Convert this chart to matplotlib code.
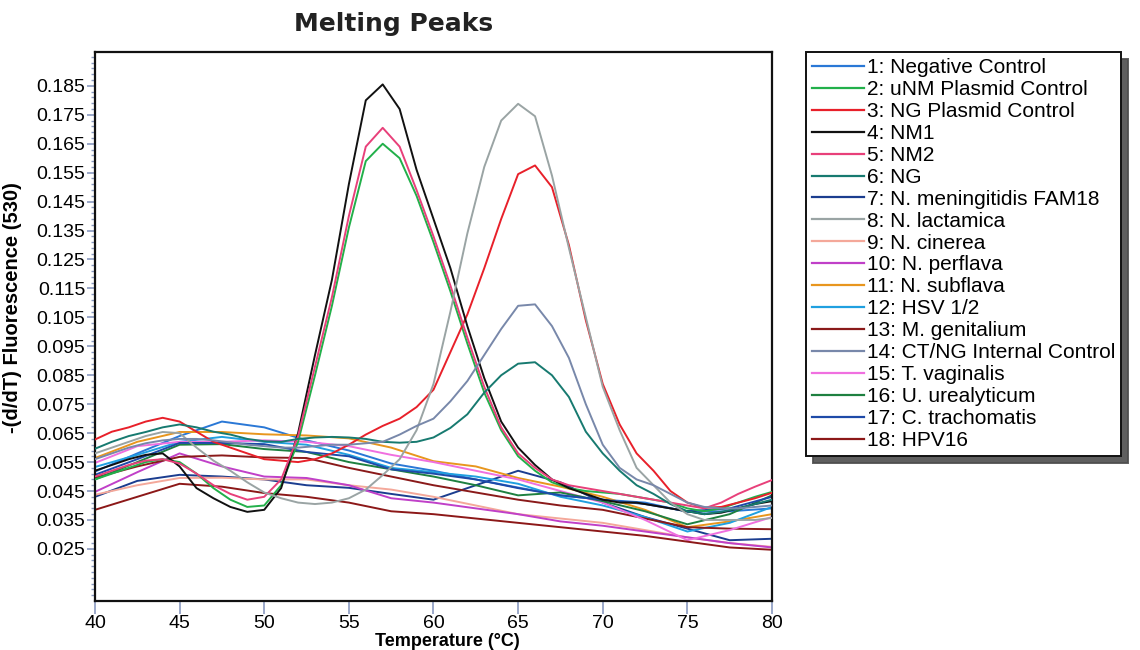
import numpy as np
import matplotlib
matplotlib.use("Agg")
import matplotlib.pyplot as plt
from matplotlib.ticker import MultipleLocator, FixedLocator

plt.rcParams['font.family'] = ['Liberation Sans', 'DejaVu Sans']

# temperature grids (degC)
T_base = [40, 42.5, 45, 47.5, 50, 52.5, 55, 57.5, 60, 62.5, 65, 67.5, 70, 72.5, 75, 77.5, 80]
T_fine = list(range(40, 81))

# --- curves with a melting peak (read on the 1 degC grid) ---
uNM_plasmid = [0.049, 0.051, 0.053, 0.055, 0.056, 0.055, 0.051, 0.046, 0.042, 0.0395,
               0.040, 0.047, 0.062, 0.085, 0.109, 0.136, 0.159, 0.165, 0.160, 0.147,
               0.131, 0.114, 0.096, 0.079, 0.066, 0.057, 0.052, 0.048, 0.046, 0.045,
               0.0445, 0.044, 0.043, 0.042, 0.041, 0.039, 0.038, 0.039, 0.041, 0.043, 0.0447]
NG_plasmid = [0.0628, 0.0655, 0.067, 0.069, 0.0703, 0.069, 0.0655, 0.062, 0.060, 0.058,
              0.056, 0.0555, 0.055, 0.056, 0.058, 0.061, 0.0645, 0.0675, 0.070, 0.074,
              0.080, 0.093, 0.106, 0.122, 0.139, 0.1545, 0.1575, 0.150, 0.130, 0.104,
              0.082, 0.068, 0.058, 0.052, 0.045, 0.041, 0.0392, 0.0395, 0.041, 0.0425, 0.0444]
NM1 = [0.052, 0.054, 0.056, 0.0575, 0.058, 0.0535, 0.046, 0.0425, 0.0395, 0.0378,
       0.0385, 0.046, 0.065, 0.092, 0.118, 0.151, 0.180, 0.1855, 0.177, 0.156,
       0.139, 0.122, 0.102, 0.084, 0.069, 0.060, 0.054, 0.049, 0.046, 0.044,
       0.042, 0.041, 0.041, 0.040, 0.039, 0.038, 0.037, 0.0375, 0.039, 0.0405, 0.0415]
NM2 = [0.050, 0.052, 0.054, 0.0555, 0.056, 0.0545, 0.051, 0.047, 0.044, 0.042,
       0.043, 0.049, 0.064, 0.088, 0.112, 0.140, 0.164, 0.1705, 0.164, 0.149,
       0.133, 0.116, 0.098, 0.081, 0.067, 0.058, 0.053, 0.049, 0.047, 0.046,
       0.045, 0.044, 0.043, 0.042, 0.041, 0.040, 0.039, 0.041, 0.044, 0.0465, 0.0488]
NG = [0.0596, 0.062, 0.064, 0.0654, 0.067, 0.068, 0.067, 0.0655, 0.0645, 0.063,
      0.0622, 0.062, 0.063, 0.0635, 0.0637, 0.0635, 0.063, 0.062, 0.0617, 0.062,
      0.0635, 0.0668, 0.0715, 0.079, 0.085, 0.089, 0.0895, 0.085, 0.0775, 0.0655,
      0.058, 0.052, 0.047, 0.044, 0.0405, 0.038, 0.037, 0.0378, 0.039, 0.0405, 0.042]
N_lactamica = [0.058, 0.060, 0.062, 0.064, 0.0654, 0.065, 0.060, 0.0555, 0.052, 0.048,
               0.0445, 0.0425, 0.041, 0.0405, 0.041, 0.0425, 0.0455, 0.0505, 0.056, 0.066,
               0.082, 0.107, 0.134, 0.157, 0.173, 0.1788, 0.1745, 0.154, 0.129, 0.105,
               0.081, 0.066, 0.053, 0.047, 0.041, 0.037, 0.035, 0.035, 0.035, 0.035, 0.0357]
CTNG_IC = [0.056, 0.058, 0.060, 0.0615, 0.0625, 0.063, 0.063, 0.0625, 0.0618, 0.061,
           0.0605, 0.060, 0.060, 0.0605, 0.061, 0.061, 0.0615, 0.062, 0.0645, 0.0675,
           0.070, 0.076, 0.083, 0.092, 0.101, 0.109, 0.1095, 0.102, 0.091, 0.075,
           0.061, 0.053, 0.049, 0.047, 0.044, 0.041, 0.0395, 0.039, 0.039, 0.0395, 0.040]

# --- flat curves (read on the 2.5 degC grid) ---
neg_control = [0.0517, 0.058, 0.064, 0.069, 0.067, 0.0625, 0.059, 0.0545, 0.052, 0.049,
               0.0462, 0.0435, 0.042, 0.041, 0.0378, 0.038, 0.039]
FAM18 = [0.043, 0.0485, 0.0506, 0.050, 0.049, 0.047, 0.0461, 0.044, 0.042, 0.047,
         0.052, 0.048, 0.041, 0.036, 0.032, 0.028, 0.0285]
N_cinerea = [0.0437, 0.047, 0.0495, 0.0496, 0.049, 0.049, 0.047, 0.0455, 0.043, 0.040,
             0.037, 0.0355, 0.034, 0.0315, 0.029, 0.027, 0.0257]
N_perflava = [0.0447, 0.0515, 0.058, 0.0535, 0.050, 0.0495, 0.047, 0.0425, 0.041, 0.039,
              0.037, 0.0345, 0.033, 0.031, 0.029, 0.027, 0.0255]
N_subflava = [0.0564, 0.062, 0.0654, 0.0654, 0.0646, 0.0642, 0.0632, 0.060, 0.0553, 0.0535,
              0.0495, 0.0465, 0.043, 0.0385, 0.0325, 0.0345, 0.037]
HSV = [0.0533, 0.0575, 0.062, 0.0637, 0.062, 0.061, 0.0575, 0.053, 0.0515, 0.050,
       0.0475, 0.043, 0.040, 0.036, 0.031, 0.034, 0.0395]
M_genitalium = [0.0496, 0.0535, 0.0568, 0.0573, 0.0566, 0.0564, 0.053, 0.050, 0.047, 0.0445,
                0.042, 0.040, 0.0385, 0.0355, 0.0325, 0.032, 0.0318]
T_vaginalis = [0.0547, 0.0605, 0.062, 0.062, 0.0625, 0.062, 0.0605, 0.0575, 0.055, 0.052,
               0.049, 0.045, 0.041, 0.035, 0.028, 0.0315, 0.036]
U_urealyticum = [0.049, 0.055, 0.061, 0.0612, 0.0595, 0.0585, 0.055, 0.0525, 0.050, 0.047,
                 0.0435, 0.0445, 0.0415, 0.038, 0.0335, 0.037, 0.0435]
C_trachomatis = [0.0506, 0.056, 0.0616, 0.0616, 0.0612, 0.0585, 0.057, 0.0525, 0.051, 0.049,
                 0.046, 0.0435, 0.042, 0.0405, 0.038, 0.039, 0.043]
HPV16 = [0.0385, 0.043, 0.0475, 0.0465, 0.0443, 0.043, 0.041, 0.038, 0.037, 0.0355,
         0.034, 0.0325, 0.031, 0.0295, 0.0275, 0.0255, 0.0247]

series = [
    ("1: Negative Control", T_base, neg_control, "#2a78d6", False),
    ("2: uNM Plasmid Control", T_fine, uNM_plasmid, "#22b04a", True),
    ("3: NG Plasmid Control", T_fine, NG_plasmid, "#e8202a", True),
    ("4: NM1", T_fine, NM1, "#111111", True),
    ("5: NM2", T_fine, NM2, "#e8407a", True),
    ("6: NG", T_fine, NG, "#177a70", True),
    ("7: N. meningitidis FAM18", T_base, FAM18, "#1b3d8f", False),
    ("8: N. lactamica", T_fine, N_lactamica, "#9aa4a4", True),
    ("9: N. cinerea", T_base, N_cinerea, "#f4a89a", False),
    ("10: N. perflava", T_base, N_perflava, "#c040c8", False),
    ("11: N. subflava", T_base, N_subflava, "#e8961e", False),
    ("12: HSV 1/2", T_base, HSV, "#20a0e0", False),
    ("13: M. genitalium", T_base, M_genitalium, "#8a1a1a", False),
    ("14: CT/NG Internal Control", T_fine, CTNG_IC, "#7888aa", True),
    ("15: T. vaginalis", T_base, T_vaginalis, "#f070e0", False),
    ("16: U. urealyticum", T_base, U_urealyticum, "#1e8040", False),
    ("17: C. trachomatis", T_base, C_trachomatis, "#1e4aa8", False),
    ("18: HPV16", T_base, HPV16, "#8c1818", False),
]

fig = plt.figure(figsize=(11.4, 6.5), dpi=100)
ax = fig.add_axes([0.0833, 0.0754, 0.5939, 0.8446])

handles = []
for name, tt, vals, col, peak in series:
    ln, = ax.plot(tt, vals, color=col, linewidth=1.4, label=name, zorder=3 if peak else 2)
    handles.append(ln)

ax.set_xlim(40, 80)
ax.set_ylim(0.007, 0.1967)
ax.xaxis.set_major_locator(MultipleLocator(5))
ax.yaxis.set_major_locator(FixedLocator(np.round(np.arange(0.025, 0.1851, 0.01), 3)))
ax.yaxis.set_minor_locator(FixedLocator(np.round(np.arange(0.009, 0.196, 0.002), 3)))
ax.yaxis.set_major_formatter(plt.FuncFormatter(lambda v, p: f"{v:.3f}"))
ax.tick_params(axis='both', which='major', labelsize=14, color='#8a9ac0', width=1.2)
ax.tick_params(axis='y', which='major', length=6, pad=1)
ax.tick_params(axis='y', which='minor', length=3, color='#8a9ac0', width=1.0)
ax.tick_params(axis='x', which='major', length=9, pad=1)
for sp in ax.spines.values():
    sp.set_linewidth(1.6)
    sp.set_color('#111111')

ax.set_xlabel("Temperature (°C)", fontsize=13, fontweight='bold', labelpad=1)
ax.set_ylabel("-(d/dT) Fluorescence (530)", fontsize=14.5, fontweight='bold', labelpad=4)
ax.yaxis.set_label_coords(-0.108, 0.535)
ax.xaxis.set_label_coords(0.52, -0.058)

fig.text(0.345, 0.963, "Melting Peaks", fontsize=18, fontweight='heavy',
         family='DejaVu Sans', color='#222222', ha='center', va='center')

leg = fig.legend(handles=handles, loc='upper left', bbox_to_anchor=(0.707, 0.92),
                 borderaxespad=0, fontsize=15, frameon=True, fancybox=False,
                 shadow={'ox': 5, 'oy': -5, 'alpha': 0.9},
                 handlelength=2.5, handletextpad=0.12, labelspacing=0.14,
                 borderpad=0.3)
leg.get_frame().set_edgecolor('#111111')
leg.get_frame().set_linewidth(1.4)
for h in leg.legend_handles:
    h.set_linewidth(1.6)

fig.savefig("out.png", dpi=100)
